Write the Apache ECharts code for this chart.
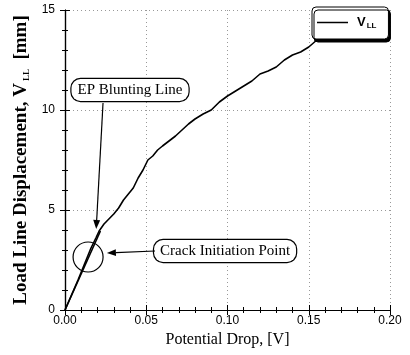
<!DOCTYPE html>
<html>
<head>
<meta charset="utf-8">
<script src="https://cdn.jsdelivr.net/npm/echarts@6/dist/echarts.min.js"></script>
<style>
  html, body { margin: 0; padding: 0; background: #fff; }
  #chart { width: 410px; height: 355px; }
</style>
</head>
<body>
<div id="chart"></div>
<script>
// Potential drop [V] vs load line displacement V_LL [mm]
const potentialDrop = [0, 0.004, 0.008, 0.012, 0.016, 0.019, 0.021, 0.024, 0.027, 0.030,
  0.033, 0.036, 0.039, 0.042, 0.045, 0.048, 0.051, 0.054, 0.057, 0.060,
  0.064, 0.068, 0.072, 0.076, 0.080, 0.085, 0.090, 0.095, 0.100, 0.105,
  0.110, 0.115, 0.120, 0.125, 0.130, 0.135, 0.140, 0.145, 0.150, 0.155,
  0.160, 0.170, 0.180];
const displacement = [0, 0.75, 1.5, 2.3, 3.1, 3.6, 3.95, 4.3, 4.55, 4.8,
  5.1, 5.5, 5.8, 6.1, 6.6, 7.0, 7.5, 7.7, 8.0, 8.2,
  8.45, 8.7, 9.0, 9.3, 9.55, 9.8, 10.0, 10.4, 10.7, 10.95,
  11.2, 11.45, 11.8, 11.95, 12.15, 12.5, 12.75, 12.9, 13.15, 13.5,
  13.75, 14.2, 14.7];

// Elastic-plastic blunting line
const bluntingX = [0, 0.0218];
const bluntingY = [0, 3.95];

const xTicks = ['0.00', '0.05', '0.10', '0.15', '0.20'];
const yTicks = ['0', '5', '10', '15'];

const serif = 'Liberation Serif';
const sans = 'Liberation Sans';

const chart = echarts.init(document.getElementById('chart'));

const axisLine = { show: true, lineStyle: { color: '#000', width: 1.2 } };
const gridLine = { show: true, lineStyle: { color: '#999', type: [1, 3], width: 1 } };
const majorTick = { show: true, inside: true, length: 5, lineStyle: { color: '#000' } };
const minorTick = { show: true, splitNumber: 5, length: 3, lineStyle: { color: '#000' } };

chart.setOption({
  animation: false,
  backgroundColor: '#fff',
  grid: { left: 65, right: 20, top: 10, bottom: 45 },
  legend: {
    data: ['VLL'],
    left: 312, top: 7,
    padding: [9, 12, 9, 5],
    icon: 'rect',
    itemWidth: 31, itemHeight: 1.5, itemGap: 0,
    backgroundColor: '#fff',
    borderColor: '#000', borderWidth: 1, borderRadius: 4,
    shadowColor: '#000', shadowOffsetX: 2, shadowOffsetY: 3, shadowBlur: 0,
    formatter: () => '{v|V}{s|LL}',
    textStyle: {
      padding: [0, 0, 0, 4],
      rich: {
        v: { fontFamily: sans, fontSize: 13, fontWeight: 'bold', color: '#000' },
        s: { fontFamily: sans, fontSize: 8, fontWeight: 'bold', color: '#000', verticalAlign: 'bottom', padding: [7, 0, 0, 1] }
      }
    }
  },
  xAxis: [{
    type: 'value', min: 0, max: 0.2, interval: 0.05,
    name: 'Potential Drop, [V]', nameLocation: 'middle', nameGap: 21,
    nameTextStyle: { fontFamily: serif, fontSize: 16, color: '#000' },
    axisLine, axisTick: majorTick, minorTick,
    axisLabel: { fontFamily: sans, fontSize: 12, color: '#000', margin: 5,
      formatter: (v) => xTicks[Math.round(v / 0.05)] },
    splitLine: gridLine
  }, {
    type: 'value', min: 0, max: 0.2, interval: 0.05, position: 'top',
    axisLine, axisLabel: { show: false }, axisTick: majorTick, minorTick,
    splitLine: { show: false }
  }],
  yAxis: [{
    type: 'value', min: 0, max: 15, interval: 5,
    name: 'Load Line Displacement, {v|V}{s|LL}  [mm]', nameLocation: 'middle', nameGap: 30,
    nameTextStyle: {
      fontFamily: serif, fontSize: 19, fontWeight: 'bold', color: '#000',
      rich: {
        v: { fontFamily: serif, fontSize: 19, fontWeight: 'bold', color: '#000' },
        s: { fontFamily: serif, fontSize: 9, fontWeight: 'bold', color: '#000', verticalAlign: 'bottom', padding: [9, 0, 0, 2] }
      }
    },
    axisLine, axisTick: majorTick, minorTick,
    axisLabel: { fontFamily: sans, fontSize: 12, color: '#000', margin: 10,
      formatter: (v) => yTicks[Math.round(v / 5)] },
    splitLine: gridLine
  }, {
    type: 'value', min: 0, max: 15, interval: 5, position: 'right',
    axisLine, axisLabel: { show: false }, axisTick: majorTick, minorTick,
    splitLine: { show: false }
  }],
  series: [{
    name: 'VLL', type: 'line', symbol: 'none',
    data: potentialDrop.map((x, i) => [x, displacement[i]]),
    lineStyle: { color: '#000', width: 1.6 },
    itemStyle: { color: '#000' }, z: 3
  }, {
    name: 'blunting', type: 'line', symbol: 'none',
    data: bluntingX.map((x, i) => [x, bluntingY[i]]),
    lineStyle: { color: '#000', width: 1.6 }, z: 3
  }]
});

// Annotation callouts placed in data coordinates
const px = (x, y) => chart.convertToPixel({ xAxisIndex: 0, yAxisIndex: 0 }, [x, y]);

function arrow(from, to) {
  const a = px(from[0], from[1]), b = px(to[0], to[1]);
  const ang = Math.atan2(b[1] - a[1], b[0] - a[0]);
  const L = 9, W = 3.5;
  const bx = b[0] - L * Math.cos(ang), by = b[1] - L * Math.sin(ang);
  const nx = -Math.sin(ang) * W, ny = Math.cos(ang) * W;
  return [
    { type: 'line', shape: { x1: a[0], y1: a[1], x2: bx, y2: by }, style: { stroke: '#000', lineWidth: 1.2 }, z: 10 },
    { type: 'polygon', shape: { points: [[b[0], b[1]], [bx + nx, by + ny], [bx - nx, by - ny]] }, style: { fill: '#000' }, z: 10 }
  ];
}

function callout(text, at) {
  const p = px(at[0], at[1]);
  return {
    type: 'text', x: p[0], y: p[1], z: 10,
    style: {
      text, fontFamily: serif, fontSize: 15, fill: '#000',
      align: 'center', verticalAlign: 'middle',
      backgroundColor: '#fff', borderColor: '#000', borderWidth: 1.2, borderRadius: 9,
      padding: [4, 6, 3, 6]
    }
  };
}

const c = px(0.0142, 2.65);
chart.setOption({
  graphic: [
    callout('EP Blunting Line', [0.0400, 11.0]),
    ...arrow([0.0234, 10.35], [0.0192, 4.05]),
    callout('Crack Initiation Point', [0.0985, 2.95]),
    ...arrow([0.0554, 2.95], [0.0258, 2.85]),
    { type: 'circle', shape: { cx: c[0], cy: c[1], r: 15 }, style: { fill: 'none', stroke: '#000', lineWidth: 1.2 }, z: 10 }
  ]
});
</script>
</body>
</html>
